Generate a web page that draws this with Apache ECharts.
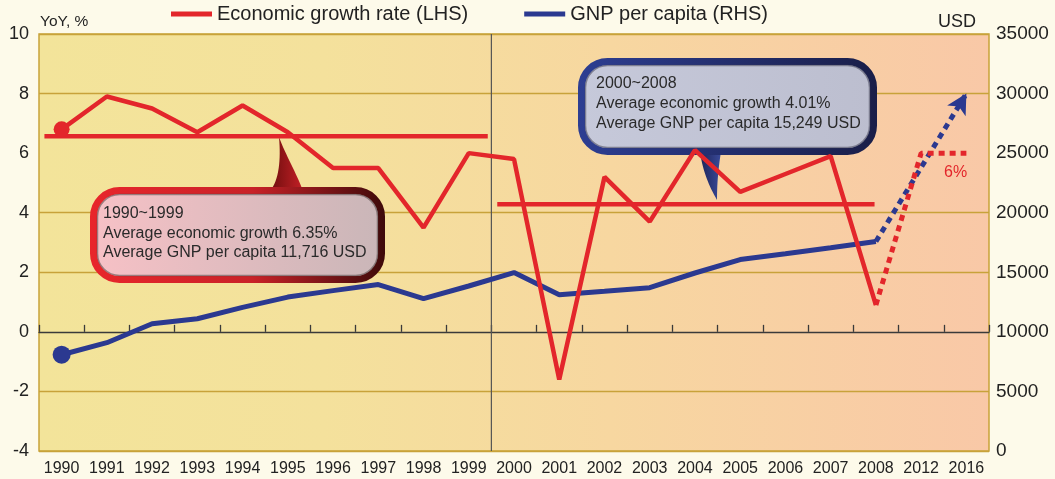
<!DOCTYPE html>
<html>
<head>
<meta charset="utf-8">
<script src="https://cdn.jsdelivr.net/npm/echarts@6/dist/echarts.min.js"></script>
<style>
html,body{margin:0;padding:0;background:#fdfaea;}
#chart{width:1055px;height:479px;}
</style>
</head>
<body>
<div id="chart"></div>
<script>
// ---- data ----
const years = ['1990','1991','1992','1993','1994','1995','1996','1997','1998','1999','2000','2001','2002','2003','2004','2005','2006','2007','2008','2012','2016'];
const growthActual = [6.8,7.9,7.5,6.7,7.6,6.7,5.5,5.5,3.5,6.0,5.8,-1.6,5.2,3.7,6.1,4.7,5.3,5.9,0.9,null,null];
const growthForecast = [null,null,null,null,null,null,null,null,null,null,null,null,null,null,null,null,null,null,0.9,6.0,6.0];
const gnpActual = [8080,9090,10680,11100,12060,12920,13460,13970,12790,13850,14980,13120,13410,13710,14940,16070,16560,17060,17580,null,null];
const gnpForecast = [null,null,null,null,null,null,null,null,null,null,null,null,null,null,null,null,null,null,17580,23800,30000];
const leftTicks = {min:-4, max:10, interval:2};
const rightTicks = {min:0, max:35000, interval:5000};
// average level lines as drawn (period spans in category-slot units)
const avgLine1 = [[0.12,6.57],[9.92,6.57]];
const avgLine2 = [[10.13,4.28],[18.47,4.28]];
const dividerLine = [[10,-4],[10,10]];
const callout1 = ['1990~1999','Average economic growth 6.35%','Average GNP per capita 11,716 USD'];
const callout2 = ['2000~2008','Average economic growth 4.01%','Average GNP per capita 15,249 USD'];
const forecastLabel = '6%';

const RED = '#e3262b', BLUE = '#2b3990';
const FONT = 'Liberation Sans, Arial, sans-serif';

const chart = echarts.init(document.getElementById('chart'));

function markFirst(arr, size){
  return arr.map((v,i)=> i===0 ? {value:v, symbol:'circle', symbolSize:size} : v);
}
const gnpF = gnpForecast.map((v,i)=> i===gnpForecast.length-1 ? {value:v, symbol:'arrow', symbolSize:[16,20], symbolRotate:-30} : v);

// cubic bezier sampler for the callout tails
function bez(p0,p1,p2,p3,n){
  const out=[];
  for(let i=0;i<=n;i++){const t=i/n,u=1-t;
    out.push([u*u*u*p0[0]+3*u*u*t*p1[0]+3*u*t*t*p2[0]+t*t*t*p3[0],
              u*u*u*p0[1]+3*u*u*t*p1[1]+3*u*t*t*p2[1]+t*t*t*p3[1]]);}
  return out;
}
const tail1 = bez([270,191],[279,180],[281,160],[279,137],16).concat(bez([279,137],[286,156],[296,172],[303,191],16).slice(1));
const tail2 = bez([700,152],[703,172],[709,186],[717,200],16).concat(bez([717,200],[717,185],[718,170],[721,152],16).slice(1));

const option = {
  backgroundColor:'#fdfaea',
  textStyle:{fontFamily:FONT},
  animation:false,
  legend:{
    top:4, left:171, padding:0, itemWidth:41, itemHeight:5, itemGap:56, icon:'rect',
    textStyle:{fontSize:20, color:'#222', fontFamily:FONT},
    data:['Economic growth rate (LHS)','GNP per capita (RHS)']
  },
  grid:{
    left:39, right:66, top:34, bottom:28, show:true,
    backgroundColor:{type:'linear',x:0,y:0,x2:1,y2:0,colorStops:[
      {offset:0,color:'#f3e49a'},{offset:0.3,color:'#f4e19c'},{offset:0.6,color:'#f7d7a0'},{offset:1,color:'#f9c8a7'}]},
    borderColor:'#c8a23a', borderWidth:1.5
  },
  xAxis:[
    {type:'category', data:years, position:'bottom',
     axisLine:{show:false,onZero:false}, axisTick:{show:false},
     axisLabel:{fontSize:16,color:'#222',margin:10,interval:0,fontFamily:FONT}},
    {type:'category', data:years, position:'bottom',
     axisLine:{show:true,onZero:true,onZeroAxisIndex:0,lineStyle:{color:'#3a3a3a',width:1.3}},
     axisTick:{show:true,inside:true,length:7,lineStyle:{color:'#3a3a3a',width:1.3}},
     axisLabel:{show:false}},
    {type:'value', min:0, max:years.length, show:false}
  ],
  yAxis:[
    {type:'value', min:leftTicks.min, max:leftTicks.max, interval:leftTicks.interval,
     axisLine:{show:false}, axisTick:{show:false},
     axisLabel:{fontSize:18,color:'#222',margin:10,fontFamily:FONT},
     splitLine:{lineStyle:{width:1.3,color:['#c8a23a','#c8a23a','rgba(0,0,0,0)','#c8a23a','#c8a23a','rgba(0,0,0,0)','#c8a23a','#c8a23a']}}},
    {type:'value', min:rightTicks.min, max:rightTicks.max, interval:rightTicks.interval, position:'right',
     axisLine:{show:false}, axisTick:{show:false}, splitLine:{show:false},
     axisLabel:{fontSize:19,color:'#222',margin:7,fontFamily:FONT, formatter:v=>String(v)}}
  ],
  series:[
    {name:'divider', type:'line', xAxisIndex:2, yAxisIndex:0, data:dividerLine, symbol:'none',
     lineStyle:{color:'#555',width:1.2}, z:2, silent:true},
    {name:'GNP per capita (RHS)', type:'line', xAxisIndex:0, yAxisIndex:1, data:markFirst(gnpActual,18),
     symbol:'none', showSymbol:true, itemStyle:{color:BLUE}, lineStyle:{color:BLUE,width:5}, z:3},
    {name:'gnpForecast', type:'line', xAxisIndex:0, yAxisIndex:1, data:gnpF,
     symbol:'none', showSymbol:true, itemStyle:{color:BLUE}, lineStyle:{color:BLUE,width:5,type:[6,5]}, z:3},
    {name:'avg1', type:'line', xAxisIndex:2, yAxisIndex:0, data:avgLine1, symbol:'none',
     lineStyle:{color:RED,width:4.5}, z:4},
    {name:'avg2', type:'line', xAxisIndex:2, yAxisIndex:0, data:avgLine2, symbol:'none',
     lineStyle:{color:RED,width:4.5}, z:4},
    {name:'Economic growth rate (LHS)', type:'line', xAxisIndex:0, yAxisIndex:0, data:markFirst(growthActual,16),
     symbol:'none', showSymbol:true, itemStyle:{color:RED}, lineStyle:{color:RED,width:4.5}, z:5},
    {name:'growthForecast', type:'line', xAxisIndex:0, yAxisIndex:0, data:growthForecast,
     symbol:'none', itemStyle:{color:RED}, lineStyle:{color:RED,width:5,type:[6,5]}, z:5}
  ],
  graphic:[
    {type:'text', left:40, top:14, style:{text:'YoY, %', fontSize:15.5, fill:'#222', fontFamily:FONT}},
    {type:'text', left:938, top:13, style:{text:'USD', fontSize:18, fill:'#222', fontFamily:FONT}},
    // callout 1
    {type:'polygon', z:1, shape:{points:tail1},
     style:{fill:{type:'linear',x:0,y:0,x2:1,y2:0,colorStops:[{offset:0,color:'#6e0e0e'},{offset:1,color:'#c42026'}]}}},
    {type:'rect', z:1, shape:{x:93.5,y:190.5,width:288,height:89,r:26},
     style:{fill:{type:'linear',x:0,y:0,x2:1,y2:0,colorStops:[{offset:0,color:'#f7c1c6'},{offset:1,color:'#c9b6b8'}]},
            stroke:{type:'linear',x:0,y:0,x2:1,y2:0,colorStops:[{offset:0,color:'#e8262b'},{offset:0.55,color:'#c92228'},{offset:1,color:'#3e0a0a'}]},
            lineWidth:7}},
    {type:'rect', z:1, shape:{x:97.5,y:194.5,width:280,height:81,r:22}, style:{fill:null, stroke:'rgba(80,70,70,0.55)', lineWidth:1.5}},
    {type:'text', z:2, x:103, y:204, style:{text:callout1.join('\n'), fontSize:16, lineHeight:19.5, fill:'#2a2a2a', fontFamily:FONT, verticalAlign:'top'}},
    // callout 2
    {type:'polygon', z:1, shape:{points:tail2},
     style:{fill:{type:'linear',x:0,y:0,x2:1,y2:0,colorStops:[{offset:0,color:'#1d2458'},{offset:1,color:'#3a4a9a'}]}}},
    {type:'rect', z:1, shape:{x:581.5,y:61.5,width:292,height:90,r:26},
     style:{fill:{type:'linear',x:0,y:0,x2:1,y2:0,colorStops:[{offset:0,color:'#c6c9da'},{offset:1,color:'#bcbecf'}]},
            stroke:{type:'linear',x:0,y:0,x2:1,y2:0,colorStops:[{offset:0,color:'#2d3e92'},{offset:1,color:'#1a1e48'}]},
            lineWidth:7}},
    {type:'rect', z:1, shape:{x:585.5,y:65.5,width:284,height:82,r:22}, style:{fill:null, stroke:'rgba(70,70,90,0.55)', lineWidth:1.5}},
    {type:'text', z:2, x:596, y:74, style:{text:callout2.join('\n'), fontSize:16, lineHeight:20, fill:'#2a2a2a', fontFamily:FONT, verticalAlign:'top'}},
    {type:'text', z:6, x:944, y:165, style:{text:forecastLabel, fontSize:16, fill:RED, fontFamily:FONT, verticalAlign:'top'}}
  ]
};
chart.setOption(option);
</script>
</body>
</html>
